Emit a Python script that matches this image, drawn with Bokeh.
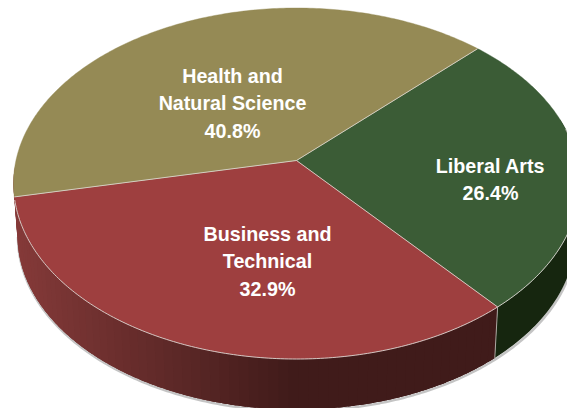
import numpy as np
from bokeh.plotting import figure
from bokeh.embed import file_html
from bokeh.resources import INLINE
from bokeh.core.properties import value

categories = ["Liberal Arts", "Business and Technical", "Health and Natural Science"]
shares = [26.4, 32.9, 40.8]
label_lines = [["Liberal Arts", "26.4%"], ["Business and", "Technical", "32.9%"], ["Health and", "Natural Science", "40.8%"]]

# scene geometry (pixels)
W, H = 567, 408
CX, CY, RX, RY = 296.0, 183.0, 283.0, 175.5
CX2, CY2, RX2, RY2 = 296.0, 235.0, 279.0, 174.0
APEX = (296.0, 160.0)
START_PHI = np.radians(50.2)
top_cols = ["#3B5C36", "#9E3F3F", "#958A55"]
LABEL_POS = [(490, 165), (267, 233), (232, 75)]
LINE_H = 27.5

ax_, ay_ = (APEX[0]-CX)/RX, -(APEX[1]-CY)/RY
s = float(np.hypot(ax_, ay_))
d = float(np.arctan2(ay_, ax_))


def boost(t, sgn=1.0):
    x, y = np.cos(t-d), np.sin(t-d)
    ss = s*sgn
    q = 1+ss*x
    return np.arctan2(y*np.sqrt(1-ss*ss)/q, (x+ss)/q)+d


def top(phi):
    return CX+RX*np.cos(phi), CY-RY*np.sin(phi)


def bottom(phi):
    return CX2+RX2*np.cos(phi), CY2-RY2*np.sin(phi)


p = figure(width=W, height=H, x_range=(0, W), y_range=(H, 0), toolbar_location=None,
           output_backend="svg", min_border=0, outline_line_color=None, background_fill_color="white")
p.xaxis.visible = False
p.yaxis.visible = False
p.grid.visible = False

t0 = boost(START_PHI, -1.0)
fr = np.cumsum([0]+shares)/sum(shares)*2*np.pi
edges = [t0-f for f in fr]

phis = [START_PHI]
for e in edges[1:]:
    v = boost(e)
    while v > phis[-1]:
        v -= 2*np.pi
    while v < phis[-1]-2*np.pi:
        v += 2*np.pi
    phis.append(v)

GREEN_WALL = "#16260F"


def red_wall(x):
    u = np.clip((x-20)/(300-20), 0, 1)
    a = np.array([0x85, 0x3A, 0x39]); b = np.array([0x40, 0x1B, 0x1A])
    c = a+(b-a)*u
    return "#%02x%02x%02x" % tuple(int(round(v)) for v in c)


# shadow under the wall
ph = np.linspace(np.pi*1.0, np.pi*2.1, 300)
bx, by = bottom(ph)
p.line(bx+0.5, by+1.5, line_color="#b5b5b5", line_width=2.5, line_alpha=0.8)

# wall: overlapping quads painted left to right
seam = phis[1] % (2*np.pi)
steps = np.linspace(np.pi*0.97, seam, 70)
xs, ys, cs = [], [], []
for a, b in zip(steps[:-1], steps[1:]):
    b2 = min(b+0.06, seam)
    bx1, _ = bottom(a); bx2, _ = bottom(b2)
    arc = np.linspace(a, b2, 8)
    tx, ty = top(arc); ux, uy = bottom(arc[::-1])
    xs.append(list(np.r_[tx, ux])); ys.append(list(np.r_[ty, uy]))
    cs.append(red_wall((bx1+bx2)/2))
arc = np.linspace(seam, np.pi*2.12, 60)
tx, ty = top(arc); ux, uy = bottom(arc[::-1])
xs.append(list(np.r_[tx, ux])); ys.append(list(np.r_[ty, uy])); cs.append(GREEN_WALL)
p.patches(xs, ys, fill_color=cs, line_color=None)

sx0, sy0 = top(seam); sx1, sy1 = bottom(seam)
p.line([sx0, sx1], [sy0, sy1], line_color="#c9c4c0", line_width=0.8)

# top faces
for i, col in enumerate(top_cols):
    arc = np.linspace(phis[i], phis[i+1], 200)
    x, y = top(arc)
    p.patch(np.r_[APEX[0], x], np.r_[APEX[1], y], fill_color=col, line_color=col, line_width=0.4)

# light rims: spokes and front edge
for ph_ in phis[:3]:
    x, y = top(np.array([ph_]))
    p.line([APEX[0], x[0]], [APEX[1], y[0]], line_color="#d9d5cc", line_width=0.9)
rim = np.linspace(np.pi*1.03, np.pi*2.1, 240)
x, y = top(rim)
p.line(x, y, line_color="#d9d5d0", line_width=0.9)

# labels
for lines, (lx, ly) in zip(label_lines, LABEL_POS):
    for j, t in enumerate(lines):
        p.text([lx], [ly+j*LINE_H], text=[t], text_color="white", text_align="center", text_baseline="middle",
               text_font=value("Liberation Sans"), text_font_style="bold", text_font_size="19.7px")

open("out.html", "w").write(file_html(p, INLINE))
